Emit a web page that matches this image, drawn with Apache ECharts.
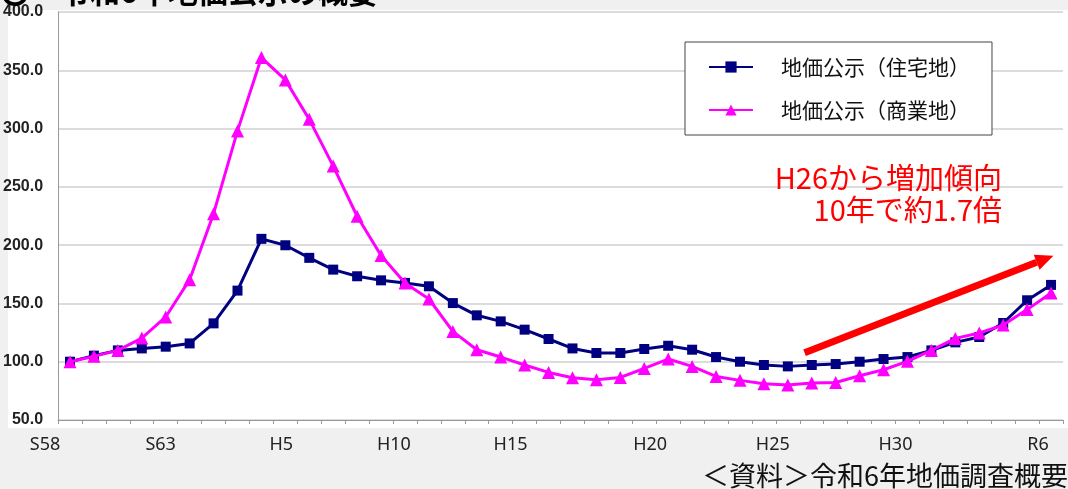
<!DOCTYPE html>
<html>
<head>
<meta charset="utf-8">
<script src="https://cdn.jsdelivr.net/npm/echarts@6/dist/echarts.min.js"></script>
<style>
  html, body { margin: 0; padding: 0; background: #f0f0f0; }
  #main { width: 1068px; height: 489px; }
</style>
</head>
<body>
<div id="main"></div>
<script>
// 年次 (S58 = 1983 ～ R6 = 2024)
var years = ['S58','S59','S60','S61','S62','S63','H1','H2','H3','H4',
             'H5','H6','H7','H8','H9','H10','H11','H12','H13','H14',
             'H15','H16','H17','H18','H19','H20','H21','H22','H23','H24',
             'H25','H26','H27','H28','H29','H30','R1','R2','R3','R4','R5','R6'];
// 表示する目盛ラベル
var shownLabels = ['S58','S63','H5','H10','H15','H20','H25','H30','R6'];
// 地価公示（住宅地） S58=100
var residential = [100,105.2,109.7,111.4,112.9,115.7,132.9,161,205.4,199.9,
                   189.1,179,173.3,169.8,167.6,164.7,150.3,139.8,134.6,127.5,
                   119.5,111.4,107.5,107.5,110.9,113.7,110.3,104,100,97.2,
                   96,97.2,98,100,102.3,104,109.7,116.6,121.2,133.2,152.7,165.9];
// 地価公示（商業地） S58=100
var commercial = [100,104.6,109.7,120.3,138.4,170.4,227,298,360.9,341.7,
                  307.9,267.8,224.8,191.1,167.6,153.8,126,110.3,104,97.2,
                  90.8,86.3,84.5,86.5,94.2,102.3,96,87.4,84,81.1,
                  80,81.7,82.2,88,93.1,100.3,109.7,120,124.6,131.4,144.7,159];
var yTicks = [50, 100, 150, 200, 250, 300, 350, 400];

// ラベルの左寄せ量（元図の配置に合わせる）
var labelShift = [25, 29, 28, 35, 38, 18, 15, 12, 13];
var rich = {};
labelShift.forEach(function (s, i) {
    rich['l' + i] = { padding: [0, s * 2, 0, 0], fontSize: 18, color: '#222',
                      fontFamily: 'Noto Sans' };
});

var jpFont = '"Noto Sans CJK JP", "Noto Sans", sans-serif';
var myChart = echarts.init(document.getElementById('main'));

var option = {
    backgroundColor: '#f0f0f0',
    animation: false,
    grid: { left: 58, right: 5, top: 12, bottom: 69 },
    legend: {
        orient: 'vertical',
        left: 685, top: 42,
        padding: [13, 22, 13, 23],
        backgroundColor: '#fff',
        borderColor: '#444',
        borderWidth: 1,
        itemWidth: 44, itemHeight: 14, itemGap: 19,
        textStyle: { fontFamily: jpFont, fontSize: 21, color: '#111',
                     lineHeight: 24, padding: [0, 0, 0, 23] },
        data: ['地価公示（住宅地）', '地価公示（商業地）']
    },
    xAxis: {
        type: 'category',
        data: years,
        axisLine: { lineStyle: { color: '#999', width: 1 } },
        axisTick: { show: true, length: 4, lineStyle: { color: '#999' } },
        axisLabel: {
            interval: 0,
            margin: 16,
            fontSize: 18,
            color: '#222',
            formatter: function (v) {
                var k = shownLabels.indexOf(v);
                return k < 0 ? '' : '{l' + k + '|' + v + '}';
            },
            rich: rich
        }
    },
    yAxis: {
        type: 'value',
        min: yTicks[0], max: yTicks[yTicks.length - 1], interval: 50,
        axisLine: { show: true, lineStyle: { color: '#999' } },
        axisTick: { show: false },
        splitLine: { lineStyle: { color: '#dcdcdc', width: 2 } },
        axisLabel: {
            margin: 15,
            color: '#222',
            fontSize: 16,
            fontWeight: 'bold',
            fontFamily: 'Liberation Sans, Arial, sans-serif',
            formatter: function (v) { return v.toFixed(1); }
        }
    },
    series: [
        {
            name: '地価公示（住宅地）',
            type: 'line',
            data: residential,
            symbol: 'rect', symbolSize: 10,
            lineStyle: { color: '#000080', width: 3 },
            itemStyle: { color: '#000080' },
            z: 3
        },
        {
            name: '地価公示（商業地）',
            type: 'line',
            data: commercial,
            symbol: 'triangle', symbolSize: 13,
            lineStyle: { color: '#ff00ff', width: 3 },
            itemStyle: { color: '#ff00ff' },
            z: 4
        }
    ],
    graphic: [
        // 図の白地
        { id: 'bg', type: 'rect', z: -100, silent: true,
          shape: { x: 8, y: 10, width: 1060, height: 418 },
          style: { fill: '#fff' } },
        // 見出し（上端で切れている）
        { id: 'title', type: 'text', x: 0, y: 7, z: 10,
          style: { text: '〇　令和6年地価公示の概要', fontSize: 30, fontWeight: 'bold',
                   fontFamily: jpFont, fill: '#000', verticalAlign: 'bottom' } },
        { id: 'note1', type: 'text', x: 1002, y: 178, z: 10,
          style: { text: 'H26から増加傾向', fontSize: 29, fontFamily: jpFont,
                   fill: '#ff0000', align: 'right', verticalAlign: 'middle' } },
        { id: 'note2', type: 'text', x: 1002, y: 210, z: 10,
          style: { text: '10年で約1.7倍', fontSize: 29, fontFamily: jpFont,
                   fill: '#ff0000', align: 'right', verticalAlign: 'middle' } },
        { id: 'source', type: 'text', x: 1068, y: 476, z: 10,
          style: { text: '＜資料＞令和6年地価調査概要', fontSize: 27, fontFamily: jpFont,
                   fill: '#111', align: 'right', verticalAlign: 'middle' } }
    ]
};
myChart.setOption(option);

// 増加傾向の矢印（データ座標から位置を求める）
function px(idx, val) {
    var i = Math.floor(idx), f = idx - i;
    var a = myChart.convertToPixel({ gridIndex: 0 }, [i, val]);
    var b = myChart.convertToPixel({ gridIndex: 0 }, [i + 1, val]);
    return [a[0] + f * (b[0] - a[0]), a[1]];
}
var p0 = px(30.7, 107.7);
var p1 = px(41.1, 191);
var ang = Math.atan2(p1[1] - p0[1], p1[0] - p0[0]);
var headLen = 18, headW = 8;
var base = [p1[0] - headLen * Math.cos(ang), p1[1] - headLen * Math.sin(ang)];
var nx = -Math.sin(ang), ny = Math.cos(ang);
myChart.setOption({
    graphic: [
        { id: 'arrowLine', type: 'line', z: 20,
          shape: { x1: p0[0], y1: p0[1], x2: base[0], y2: base[1] },
          style: { stroke: '#ff0000', lineWidth: 7 } },
        { id: 'arrowHead', type: 'polygon', z: 20,
          shape: { points: [p1, [base[0] + nx * headW, base[1] + ny * headW],
                            [base[0] - nx * headW, base[1] - ny * headW]] },
          style: { fill: '#ff0000' } }
    ]
});
window.addEventListener('resize', function () { myChart.resize(); });
</script>
</body>
</html>
